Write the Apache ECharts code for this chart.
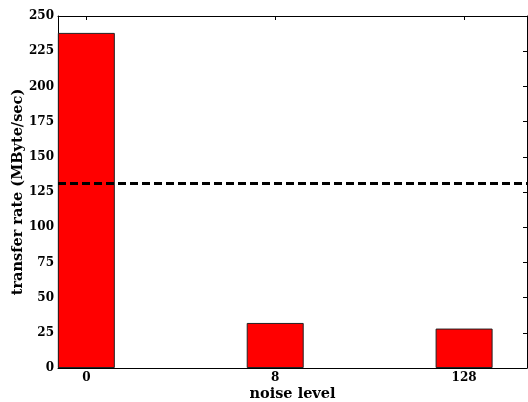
<!DOCTYPE html>
<html>
<head>
<meta charset="utf-8">
<script src="https://cdn.jsdelivr.net/npm/echarts@6/dist/echarts.min.js"></script>
<style>html,body{margin:0;padding:0;background:#fff;overflow:hidden;}#c{width:528px;height:402px;}</style>
</head>
<body>
<div id="c"></div>
<script>
var categories = ['0', '8', '128'];
var rates = [238, 32, 28];
var referenceLevel = 131;
var yTicks = [0, 25, 50, 75, 100, 125, 150, 175, 200, 225, 250];

var font = 'DejaVu Serif';
var positions = categories.map(function (c, i) { return i; });
var chart = echarts.init(document.getElementById('c'), null, {renderer: 'canvas'});
var xCommon = {
  type: 'value', min: -0.15, max: 2.333,
  splitLine: {show: false},
  axisLine: {onZero: false, lineStyle: {color: '#000', width: 1}},
  axisTick: {inside: true, length: 4, lineStyle: {color: '#000'}, customValues: positions}
};
var yCommon = {
  type: 'value', min: 0, max: 250, interval: 25,
  splitLine: {show: false},
  axisLine: {show: true, onZero: false, lineStyle: {color: '#000', width: 1}},
  axisTick: {show: true, inside: true, length: 4, lineStyle: {color: '#000'}}
};
chart.setOption({
  animation: false,
  grid: {left: 58, right: 1, top: 16, bottom: 34, containLabel: false, outerBoundsMode: 'none'},
  xAxis: [
    Object.assign({}, xCommon, {
      position: 'bottom',
      name: 'noise level', nameLocation: 'middle', nameGap: 19, nameMoveOverlap: false,
      nameTextStyle: {fontFamily: font, fontWeight: 'bold', fontSize: 14.5, color: '#000'},
      axisLabel: {customValues: positions, margin: 4, fontFamily: font, fontWeight: 'bold', fontSize: 12, color: '#000',
        formatter: function (v) { return categories[Math.round(v)]; }}
    }),
    Object.assign({}, xCommon, {position: 'top', axisLabel: {show: false}})
  ],
  yAxis: [
    Object.assign({}, yCommon, {
      position: 'left',
      name: 'transfer rate (MByte/sec)', nameLocation: 'middle', nameGap: 32, nameRotate: 90, nameMoveOverlap: false,
      nameTextStyle: {fontFamily: font, fontWeight: 'bold', fontSize: 14.5, color: '#000'},
      axisLabel: {margin: 4, fontFamily: font, fontWeight: 'bold', fontSize: 12, color: '#000',
        customValues: yTicks}
    }),
    Object.assign({}, yCommon, {position: 'right', axisLabel: {show: false}})
  ],
  series: [{
    type: 'bar',
    xAxisIndex: 0, yAxisIndex: 0,
    barWidth: 57,
    data: rates.map(function (v, i) { return [positions[i], v]; }),
    itemStyle: {color: '#ff0000', borderColor: '#222', borderWidth: 1},
    markLine: {
      silent: true, symbol: ['none', 'none'], label: {show: false},
      lineStyle: {color: '#000', width: 3, type: [8, 4]},
      data: [{yAxis: referenceLevel}]
    }
  }]
});
</script>
</body>
</html>
